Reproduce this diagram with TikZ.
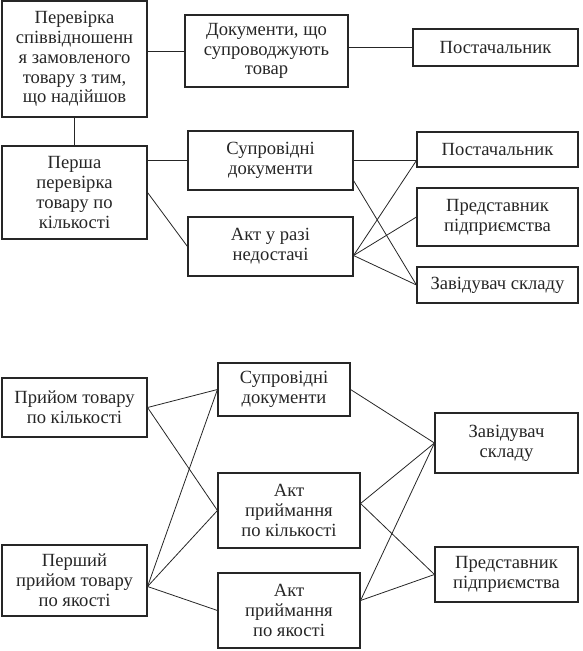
\documentclass[tikz,border=0pt]{standalone}
\usepackage{fontspec}
\setmainfont{Liberation Serif}
\usetikzlibrary{positioning}

\begin{document}
\begin{tikzpicture}[x=1pt,y=-1pt,
  box/.style={draw=black!85,line width=1.1pt,align=center,inner sep=0pt,
    text=black!85,font=\fontsize{18.6}{19.8}\selectfont},
  link/.style={draw=black!85,line width=0.8pt}]
\useasboundingbox (0,0) rectangle (582,651);

\node[box,minimum width=145pt,minimum height=116pt] (check) at (74.5,59)
  {Перевірка\\співвідношенн\\я замовленого\\товару з тим,\\що надійшов};
\node[box,minimum width=163pt,minimum height=72pt] (docs) at (266.5,51)
  {Документи, що\\супроводжують\\товар};
\node[box,minimum width=165pt,minimum height=37pt] (supA) at (495.5,47.5)
  {Постачальник};

\node[box,minimum width=145pt,minimum height=93pt] (first) at (74.5,192.5)
  {Перша\\перевірка\\товару по\\кількості};
\node[box,minimum width=165pt,minimum height=59pt] (accA) at (270.5,160.5)
  {Супровідні\\документи};
\node[box,minimum width=165pt,minimum height=59pt] (lack) at (270.5,246.5)
  {Акт у разі\\недостачі};
\node[box,minimum width=161pt,minimum height=35pt] (supB) at (497.5,149.5)
  {Постачальник};
\node[box,minimum width=161pt,minimum height=58pt] (repA) at (497.5,217)
  {Представник\\підприємства};
\node[box,minimum width=161pt,minimum height=36pt] (headA) at (497.5,285)
  {Завідувач складу};

\node[box,minimum width=145pt,minimum height=59pt] (qty) at (74.5,407.5)
  {Прийом товару\\по кількості};
\node[box,minimum width=145pt,minimum height=71pt] (qual) at (74.5,580.5)
  {Перший\\прийом товару\\по якості};
\node[box,minimum width=132pt,minimum height=53pt] (accB) at (284,389.5)
  {Супровідні\\документи};
\node[box,minimum width=142pt,minimum height=75pt] (actQ) at (289,510.5)
  {Акт\\приймання\\по кількості};
\node[box,minimum width=142pt,minimum height=75pt] (actK) at (289,610.5)
  {Акт\\приймання\\по якості};
\node[box,minimum width=143pt,minimum height=60pt] (headB) at (506.5,443)
  {Завідувач\\складу};
\node[box,minimum width=143pt,minimum height=55pt] (repB) at (506.5,574.5)
  {Представник\\підприємства};

\coordinate (fa) at ([yshift=-9pt]lack.east);
\coordinate (ga) at (accA.east -| supB.west);

\draw[link] (docs.west -| check.east) -- (docs.west);
\draw[link] (supA.west -| docs.east) -- (supA.west);
\draw[link] (check.south) -- (first.north);
\draw[link] (accA.west -| first.east) -- (accA.west);
\draw[link] (first.east) -- (lack.west);
\draw[link] (accA.east) -- (ga);
\draw[link] ([yshift=10pt]accA.south east) -- (headA.west);
\draw[link] (fa) -- (ga);
\draw[link] (fa) -- (repA.west);
\draw[link] (fa) -- (headA.west);

\coordinate (qa) at ([yshift=-6pt]qual.east);
\coordinate (ma) at ([yshift=7pt]actQ.east);
\coordinate (na) at ([yshift=10pt]actK.east);

\draw[link] (qty.east) -- (accB.west);
\draw[link] (qty.east) -- (actQ.west);
\draw[link] (qa) -- (accB.west);
\draw[link] (qa) -- (actQ.west);
\draw[link] (qa) -- (actK.west);
\draw[link] (accB.east) -- (headB.west);
\draw[link] (ma) -- (headB.west);
\draw[link] (ma) -- (repB.west);
\draw[link] (na) -- (headB.west);
\draw[link] (na) -- (repB.west);

\end{tikzpicture}
\end{document}
